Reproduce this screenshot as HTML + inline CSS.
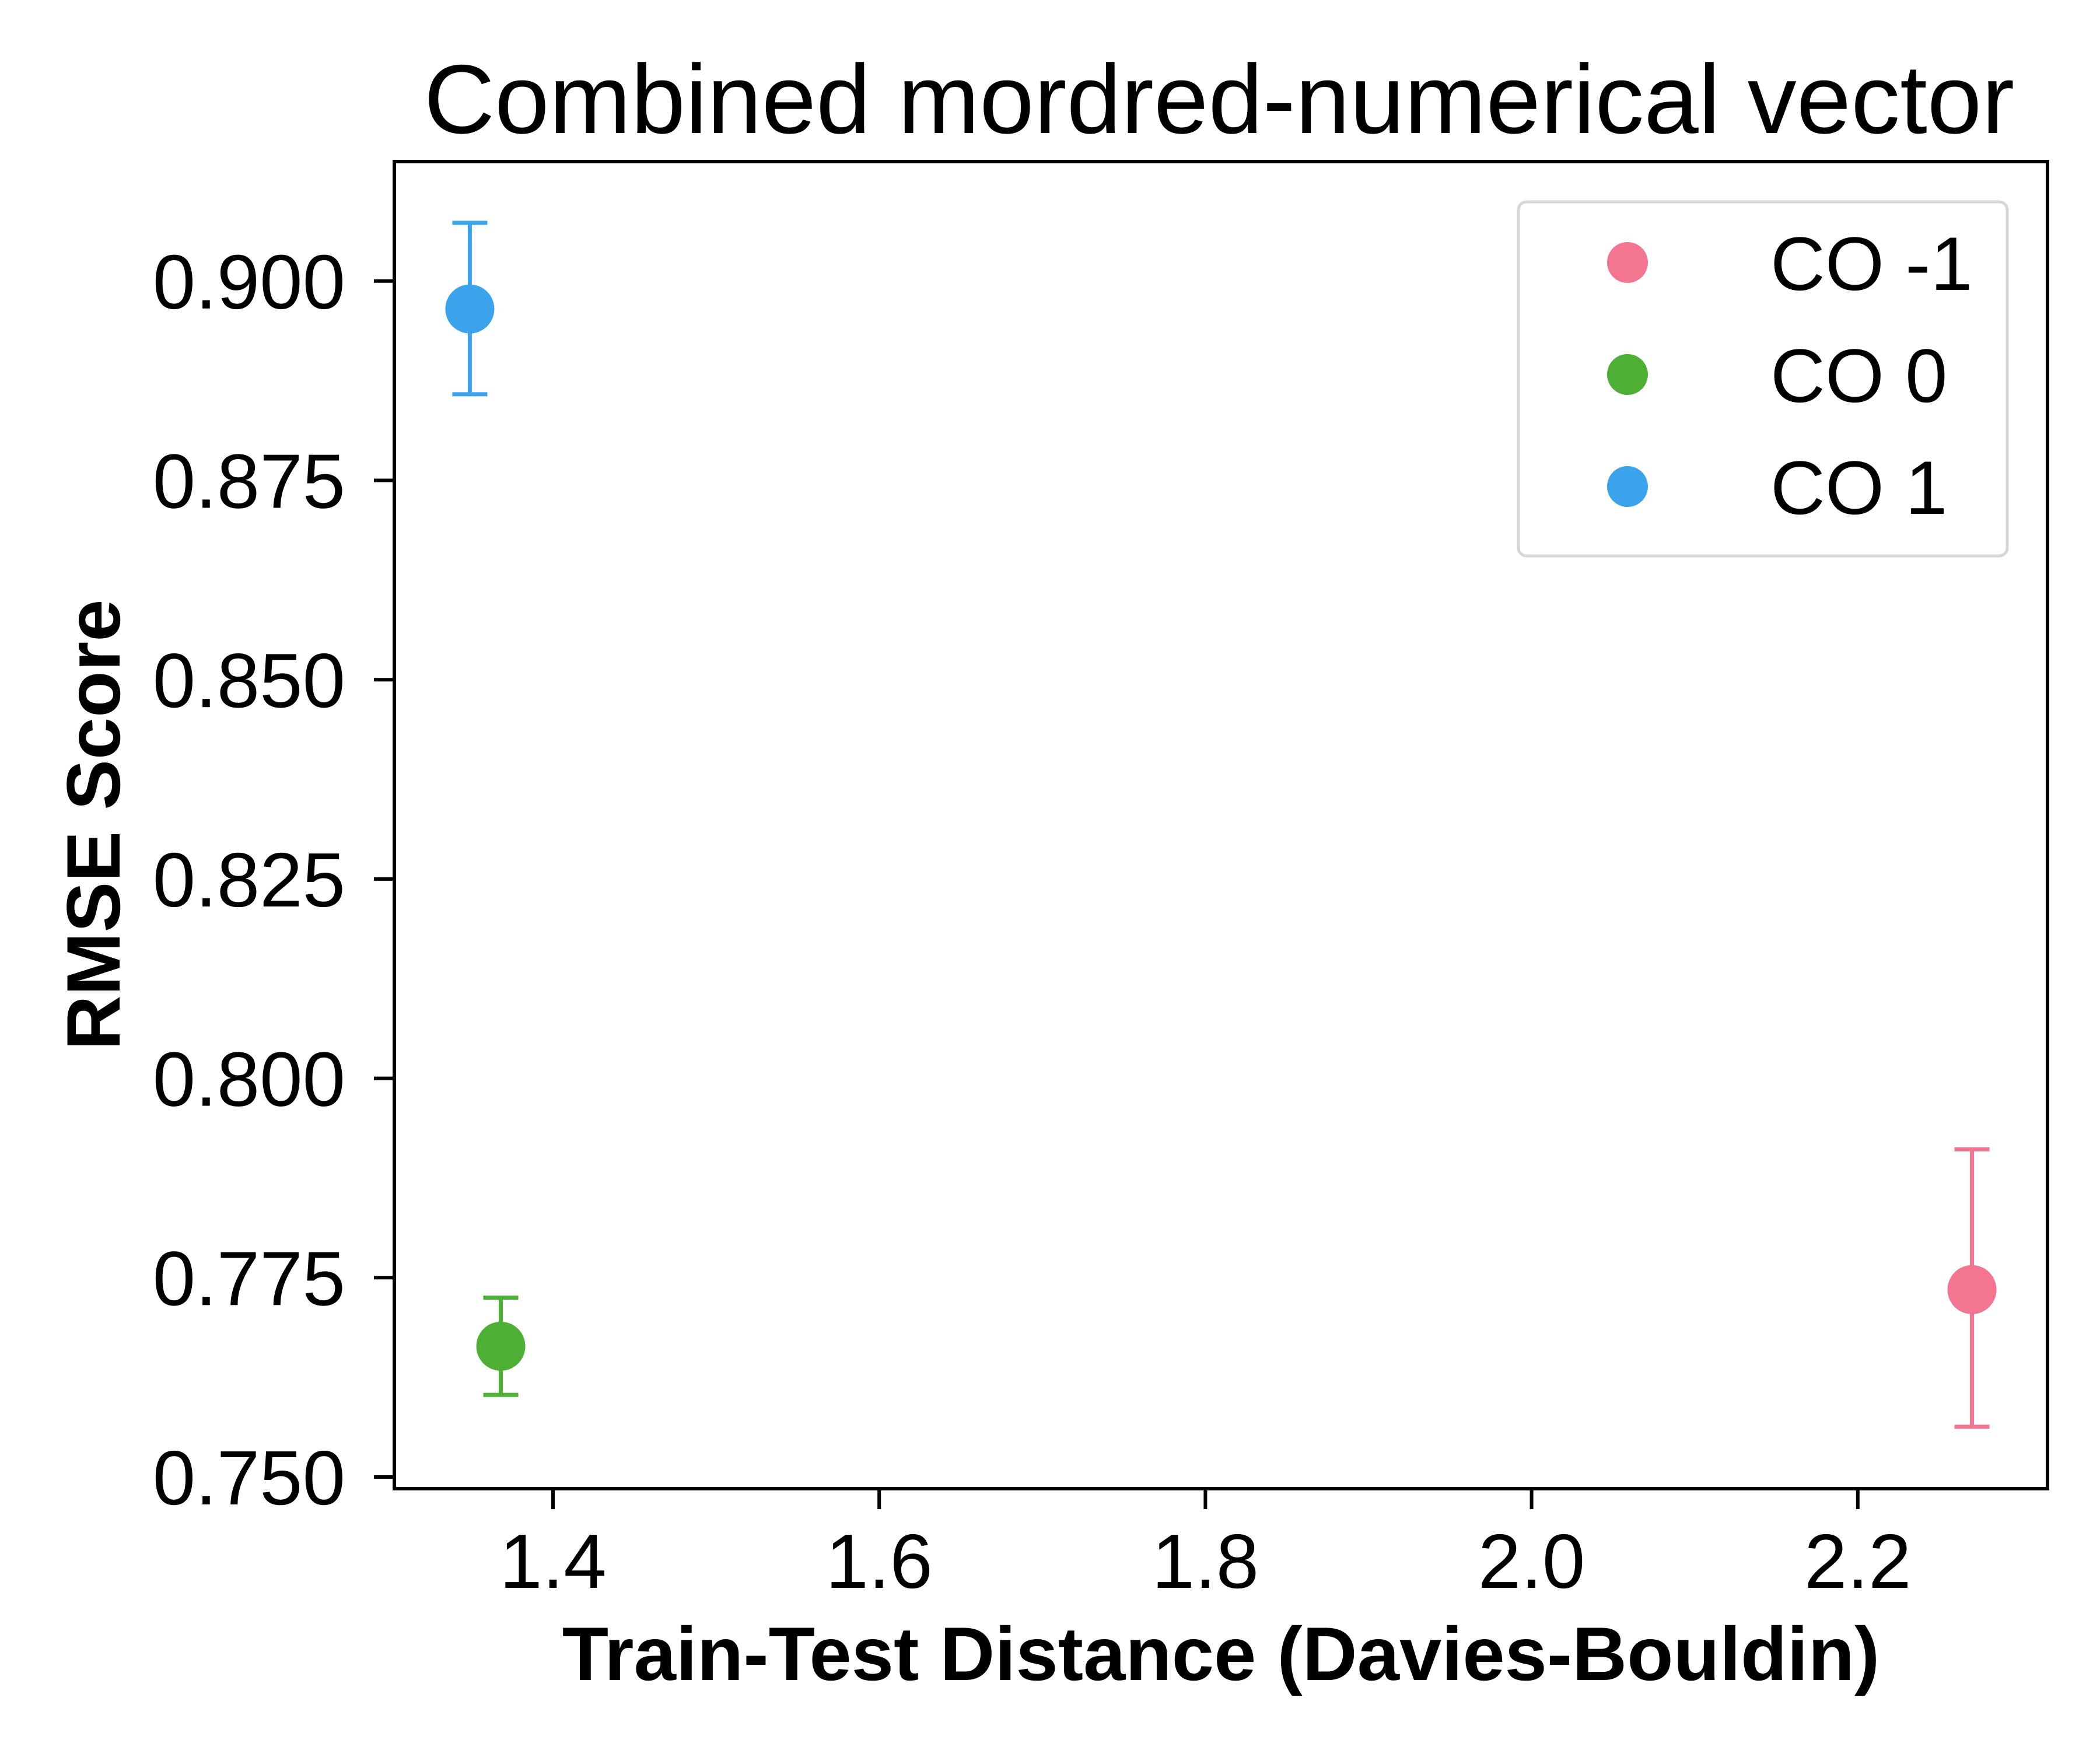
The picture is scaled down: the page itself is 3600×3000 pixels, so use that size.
<!DOCTYPE html>
<html><head><meta charset="utf-8"><style>html,body{margin:0;padding:0;background:#fff}svg{display:block}</style></head>
<body>
<svg id="chart" width="3600" height="3000" xmlns="http://www.w3.org/2000/svg" font-family="'Liberation Sans', Arial, sans-serif">
<rect width="3600" height="3000" fill="#fff"/>
<text x="2090" y="228" font-size="168" text-anchor="middle">Combined mordred-numerical vector</text>
<g id="axes"></g>
<g id="marks"></g>
<rect x="676" y="277" width="2834" height="2275" fill="none" stroke="#000" stroke-width="6"/>
<text x="2093" y="2880" font-size="130" font-weight="bold" text-anchor="middle">Train-Test Distance (Davies-Bouldin)</text>
<text transform="translate(205,1414) rotate(-90)" font-size="130" font-weight="bold" text-anchor="middle">RMSE Score</text>
<g id="legend">
<rect x="2603" y="346" width="838" height="607" rx="14" fill="#fff" stroke="#d6d6d6" stroke-width="5"/>
</g>
</svg>
<script>
const labels = ["CO -1","CO 0","CO 1"];
const colors = ["#f37590","#4daf33","#3ba3ec"];
const xVals = [2.270, 1.368, 1.349];
const yVals = [0.7735, 0.7664, 0.8965];
const errLo = [0.7563, 0.7603, 0.8858];
const errHi = [0.7911, 0.7725, 0.9073];
const xTicks = [1.4,1.6,1.8,2.0,2.2];
const yTicks = [0.750,0.775,0.800,0.825,0.850,0.875,0.900];

const NS="http://www.w3.org/2000/svg";
function X(v){return 948+(v-1.4)/0.2*559.2;}
function Y(v){return 2532-(v-0.75)/0.025*341.7;}
function mk(t,a,p){const e=document.createElementNS(NS,t);for(const k in a)e.setAttribute(k,a[k]);p.appendChild(e);return e;}
const axes=document.getElementById('axes'), marks=document.getElementById('marks'), legend=document.getElementById('legend');
xTicks.forEach(v=>{
  const l=mk('line',{x1:X(v),x2:X(v),y1:2552,y2:2587,stroke:'#000','stroke-width':6},axes);
  
  
  const t=mk('text',{x:X(v),y:2722,'font-size':132,'text-anchor':'middle'},axes);
  t.textContent=v.toFixed(1);
  
  
});
yTicks.forEach(v=>{
  const l=mk('line',{x1:641,x2:676,y1:Y(v),y2:Y(v),stroke:'#000','stroke-width':6},axes);
  
  
  const t=mk('text',{x:592,y:Y(v)+47,'font-size':132,'text-anchor':'end'},axes);
  t.textContent=v.toFixed(3);
  
  
});
labels.forEach((lab,i)=>{
  const g=mk('g',{},marks);
  
  
  const x=X(xVals[i]);
  mk('line',{x1:x,x2:x,y1:Y(errLo[i]),y2:Y(errHi[i]),stroke:colors[i],'stroke-width':7},g);
  mk('line',{x1:x-30,x2:x+30,y1:Y(errLo[i]),y2:Y(errLo[i]),stroke:colors[i],'stroke-width':7},g);
  mk('line',{x1:x-30,x2:x+30,y1:Y(errHi[i]),y2:Y(errHi[i]),stroke:colors[i],'stroke-width':7},g);
  mk('circle',{cx:x,cy:Y(yVals[i]),r:42,fill:colors[i]},g);
  const ly=450+i*192;
  const le=mk('g',{},legend);
  
  
  mk('circle',{cx:2790,cy:ly,r:35,fill:colors[i]},le);
  const t=mk('text',{x:3035,y:ly+47,'font-size':130},le);
  t.textContent=lab;
});
</script>
</body></html>
